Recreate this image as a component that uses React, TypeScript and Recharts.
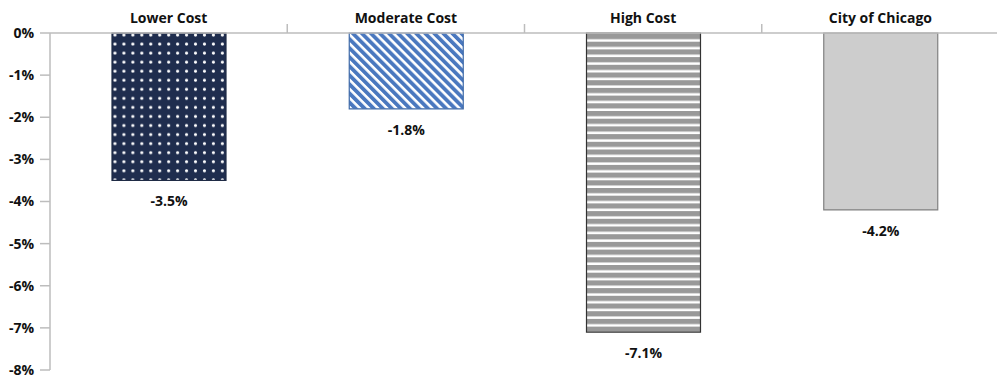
import { BarChart, Bar, XAxis, YAxis, Cell, LabelList } from "recharts";

const categories = ["Lower Cost", "Moderate Cost", "High Cost", "City of Chicago"];
const changes = [-3.5, -1.8, -7.1, -4.2];
const yTicks = [0, -1, -2, -3, -4, -5, -6, -7, -8];

const data = categories.map((name, i) => ({ name, value: changes[i] }));

const FILLS = ["url(#dots)", "url(#diag)", "url(#hstripes)", "#cdcdcd"];
const STROKES = ["#1f2b45", "#3f6aa8", "#333333", "#808080"];

const W = 997;
const H = 377;
const Y_AXIS_W = 50;
const AXIS_Y = 33;
const RIGHT = -2;
const halfBand = (W - Y_AXIS_W - RIGHT) / categories.length / 2;
const FONT = "'Open Sans', Lato, sans-serif";

// eslint-disable-next-line @typescript-eslint/no-explicit-any
const CategoryTick = (props: any) => {
  const { x, payload, index } = props;
  return (
    <g>
      <text x={x} y={23} textAnchor="middle" fontFamily={FONT} fontWeight={700} fontSize={14} fill="#111">
        {payload.value}
      </text>
      {index > 0 && (
        <line x1={x - halfBand} x2={x - halfBand} y1={AXIS_Y} y2={AXIS_Y - 9} stroke="#bdbdbd" strokeWidth={1.5} />
      )}
    </g>
  );
};

// eslint-disable-next-line @typescript-eslint/no-explicit-any
const ValueLabel = (props: any) => {
  const { x, y, width, height, value } = props;
  const bottom = Math.max(y, y + height);
  return (
    <text x={x + width / 2} y={bottom + 26} textAnchor="middle" fontFamily={FONT} fontWeight={700} fontSize={14} fill="#111">
      {`${Number(value).toFixed(1)}%`}
    </text>
  );
};

export default function App() {
  return (
    <div style={{ position: "absolute", left: 0, top: 0, width: W, height: H, background: "#fff", overflow: "hidden" }}>
      <svg width={0} height={0} style={{ position: "absolute" }}>
        <defs>
          <pattern id="dots" width={8.95} height={9.05} patternUnits="userSpaceOnUse" x={110.5} y={30.5}>
            <rect width={8.95} height={9.05} fill="#1f2d4e" />
            <circle cx={4.47} cy={4.52} r={1.6} fill="#ffffff" />
          </pattern>
          <pattern id="diag" width={6.4} height={6.4} patternUnits="userSpaceOnUse" patternTransform="rotate(-45)">
            <rect width={6.4} height={6.4} fill="#ffffff" />
            <rect width={3.8} height={6.4} fill="#4a78bf" />
          </pattern>
          <pattern id="hstripes" width={8} height={7.7} patternUnits="userSpaceOnUse" y={34}>
            <rect width={8} height={7.7} fill="#ffffff" />
            <rect width={8} height={5.2} fill="#999999" />
          </pattern>
        </defs>
      </svg>
      <BarChart width={W} height={H} data={data} margin={{ top: 0, right: RIGHT, left: 0, bottom: 7 }}>
        <XAxis
          dataKey="name"
          orientation="top"
          height={AXIS_Y}
          axisLine={{ stroke: "#bdbdbd", strokeWidth: 1.5 }}
          tickLine={false}
          tick={<CategoryTick />}
          interval={0}
        />
        <YAxis
          width={Y_AXIS_W}
          domain={[-8, 0]}
          ticks={yTicks}
          interval={0}
          tickFormatter={(v: number) => `${v}%`}
          axisLine={{ stroke: "#bdbdbd", strokeWidth: 1.5 }}
          tickLine={{ stroke: "#bdbdbd", strokeWidth: 1.5 }}
          tickSize={10}
          tickMargin={6}
          tick={{ fontFamily: FONT, fontWeight: 700, fontSize: 14, fill: "#111" }}
        />
        <Bar dataKey="value" barSize={114} isAnimationActive={false}>
          {data.map((entry, index) => (
            <Cell key={`cell-${index}`} fill={FILLS[index]} stroke={STROKES[index]} strokeWidth={1.2} />
          ))}
          <LabelList dataKey="value" content={<ValueLabel />} />
        </Bar>
      </BarChart>
    </div>
  );
}
